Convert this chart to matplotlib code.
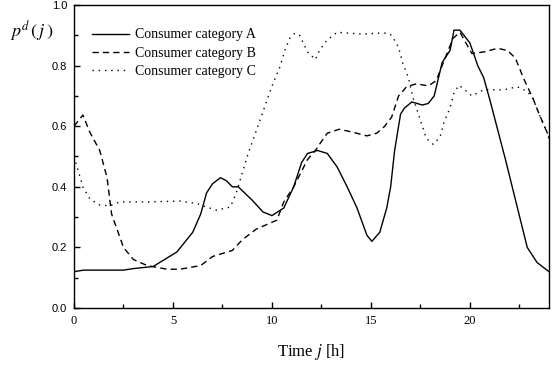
import matplotlib
matplotlib.use("Agg")
import matplotlib.pyplot as plt
from matplotlib.ticker import MultipleLocator

plt.rcParams['mathtext.fontset'] = 'stix'

# Data (hours, demand probability)
hA = [0, 0.5, 2.5, 3, 4, 5.2, 6.0, 6.4, 6.7, 7.0, 7.4, 7.7, 8.0, 8.3, 9.0, 9.55, 10.0,
      10.6, 11.1, 11.5, 11.8, 12.3, 12.8, 13.3, 13.8, 14.3, 14.8, 15.05, 15.45, 15.8,
      16.0, 16.2, 16.5, 16.7, 17.07, 17.6, 17.9, 18.2, 18.6, 19.0, 19.2, 19.5, 20.0,
      20.4, 20.7, 21.0, 21.8, 22.9, 23.4, 24]
vA = [0.12, 0.125, 0.125, 0.13, 0.137, 0.185, 0.25, 0.31, 0.38, 0.41, 0.43, 0.42, 0.40,
      0.40, 0.356, 0.317, 0.305, 0.33, 0.40, 0.48, 0.51, 0.52, 0.51, 0.465, 0.40, 0.33,
      0.24, 0.22, 0.25, 0.33, 0.40, 0.52, 0.64, 0.66, 0.68, 0.67, 0.675, 0.70, 0.81,
      0.85, 0.917, 0.917, 0.875, 0.80, 0.76, 0.69, 0.49, 0.20, 0.15, 0.12]

hB = [0, 0.45, 0.8, 1.3, 1.67, 1.9, 2.5, 3.0, 3.7, 4.7, 5.35, 6.4, 7.0, 8.0, 8.5, 9.2,
      10.25, 10.6, 11.1, 11.8, 12.2, 12.4, 12.8, 13.4, 14.1, 14.8, 15.3, 15.7, 16.05,
      16.4, 16.8, 17.3, 17.9, 18.3, 18.6, 19.15, 19.5, 20.1, 20.7, 21.4, 21.9, 22.3,
      22.7, 23.2, 23.5, 23.9, 24]
vB = [0.60, 0.637, 0.58, 0.52, 0.43, 0.31, 0.20, 0.16, 0.14, 0.128, 0.128, 0.14, 0.17,
      0.19, 0.225, 0.26, 0.29, 0.35, 0.40, 0.49, 0.52, 0.54, 0.577, 0.59, 0.58, 0.568,
      0.577, 0.60, 0.63, 0.70, 0.73, 0.74, 0.733, 0.75, 0.80, 0.89, 0.91, 0.84, 0.845,
      0.857, 0.85, 0.825, 0.76, 0.69, 0.64, 0.58, 0.56]

hC = [0, 0.45, 0.8, 1.3, 1.8, 2.3, 3.8, 5.35, 6.2, 6.7, 7.2, 7.9, 8.2, 8.8, 9.05, 9.4,
      9.75, 10.05, 10.4, 10.65, 10.9, 11.16, 11.4, 11.8, 12.2, 12.4, 12.8, 13.3, 13.9,
      14.6, 15.3, 15.8, 16.05, 16.4, 16.6, 16.9, 17.1, 17.3, 17.6, 17.8, 18.15, 18.5,
      18.7, 19.0, 19.2, 19.45, 19.75, 20.1, 20.7, 21.7, 22.4, 22.9, 23.2, 23.5, 23.9, 24]
vC = [0.50, 0.40, 0.36, 0.34, 0.337, 0.35, 0.35, 0.353, 0.345, 0.333, 0.323, 0.333, 0.38,
      0.51, 0.555, 0.62, 0.686, 0.74, 0.795, 0.85, 0.89, 0.907, 0.90, 0.845, 0.82, 0.85,
      0.885, 0.91, 0.907, 0.904, 0.907, 0.907, 0.90, 0.86, 0.81, 0.76, 0.70, 0.66, 0.60,
      0.56, 0.54, 0.565, 0.615, 0.66, 0.71, 0.735, 0.72, 0.70, 0.72, 0.72, 0.73, 0.715,
      0.69, 0.64, 0.58, 0.56]

labels = ["Consumer category A", "Consumer category B", "Consumer category C"]
xticks = [0, 5, 10, 15, 20]
yticks = [0.0, 0.2, 0.4, 0.6, 0.8, 1.0]

W, H = 557, 365
fig = plt.figure(figsize=(W / 100, H / 100), dpi=100)
ax = fig.add_axes([74 / W, 1 - 308 / H, (549 - 74) / W, (308 - 5) / H])

ax.plot(hA, vA, color='black', lw=1.0, linestyle='-', label=labels[0])
ax.plot(hB, vB, color='black', lw=1.0, linestyle=(0, (4.5, 3)), label=labels[1])
ax.plot(hC, vC, color='black', lw=1.0, linestyle=(0, (1, 3.5)), label=labels[2])

ax.set_xlim(0, 24)
ax.set_ylim(0, 1.0)
ax.set_xticks(xticks)
ax.set_xticklabels([str(t) for t in xticks], fontfamily='Liberation Serif', fontsize=9)
ax.set_yticks(yticks)
ax.set_yticklabels(["%.1f" % t for t in yticks], fontfamily='Liberation Sans', fontsize=8)
ax.xaxis.set_minor_locator(MultipleLocator(2.5))
ax.yaxis.set_minor_locator(MultipleLocator(0.1))
ax.tick_params(which='both', direction='in', top=False, right=False, width=1.0)
ax.tick_params(which='major', length=4, pad=5)
ax.tick_params(which='minor', length=3)
for s in ax.spines.values():
    s.set_linewidth(1.0)

ax.set_xlabel(r"Time $j$ [h]", fontfamily='Liberation Serif', fontsize=12, labelpad=11)
fig.text(10 / W, 1 - 38 / H, r"$p^{d}\,(\,j\,)$", fontsize=13, ha='left', va='baseline')

leg = ax.legend(loc='upper left', bbox_to_anchor=(0.02, 0.95), frameon=False,
                prop={'family': 'Liberation Serif', 'size': 10}, handlelength=2.7,
                handletextpad=0.4, labelspacing=0.37, borderaxespad=0.2)

fig.savefig("out.png", dpi=100)
